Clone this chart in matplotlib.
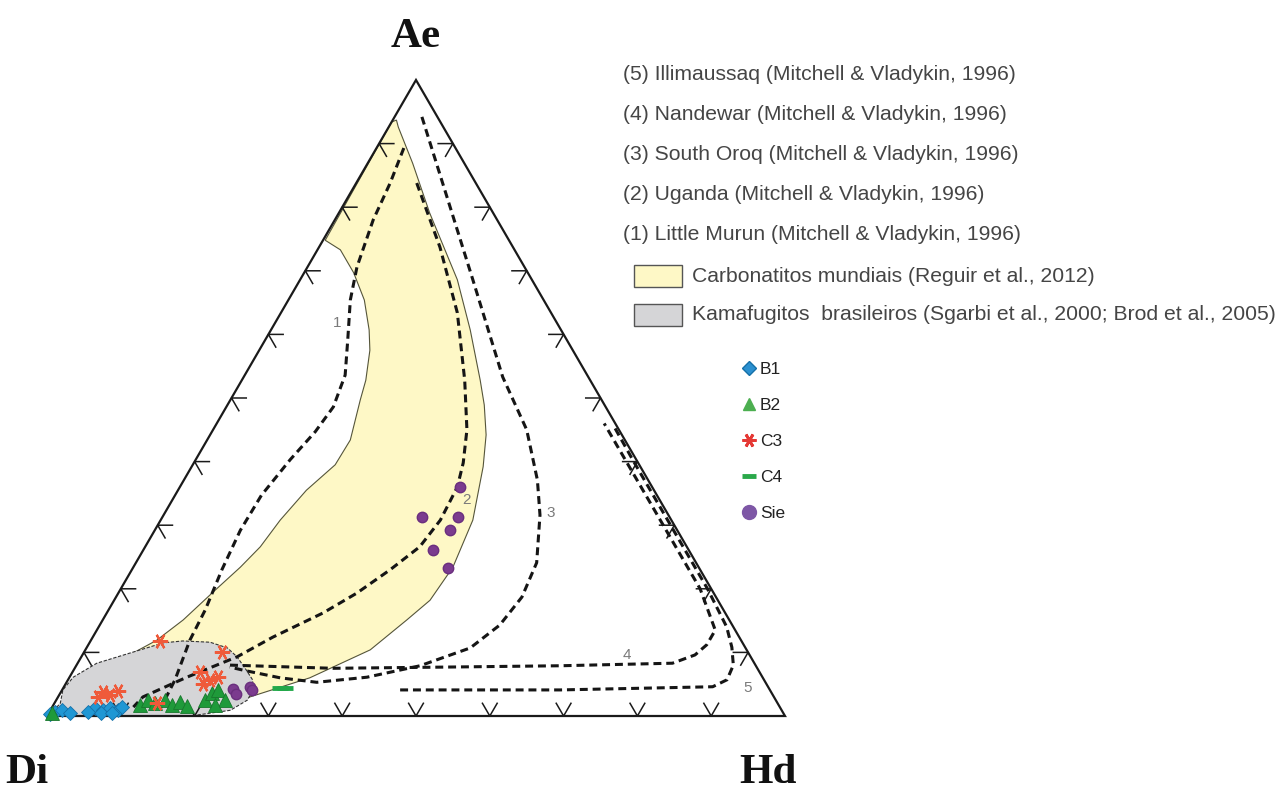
import numpy as np
import matplotlib.pyplot as plt
from matplotlib.patches import Rectangle
from matplotlib.lines import Line2D

S3 = np.sqrt(3) / 2

# all compositions in % as (Hd, Ae); Di = 100 - Hd - Ae
carb_hd = [0.5, 0, 0.3, 3.1, 6.7, 10.3, 13.3, 15.0, 16.8, 17.6, 19.4, 19.3, 17.4, 16.2, 15.6, 14.5,
           12.9, 10.9, 8.9, 5.5, 3.0, 1.8, 6.9, 13.8, 22.1, 26.0, 32.6, 38.6, 41.2, 42.8, 43.3,
           42.3, 39.5, 37.4, 34.8, 32.3, 27.0, 21.3, 12.3, 6.1, 1.3]
carb_ae = [93.7, 93.4, 74.8, 73.3, 69.7, 65.4, 60.7, 57.5, 52.8, 49.7, 43.4, 39.5, 35.5, 30.8, 26.6, 23.4,
           19.8, 15.1, 11.9, 8.8, 5.7, 2.5, 0.6, 0.3, 1.3, 3.0, 6.0, 10.4, 15.1, 18.2, 23.4,
           30.8, 39.2, 44.2, 48.9, 52.8, 60.7, 68.6, 79.1, 86.9, 92.6]

kama_hd = [0.3, 0.8, 0.1, 0.5, 2.6, 6.3, 10.0, 12.5, 16.3, 19.1, 21.1, 23.1, 25.0, 25.9, 25.9, 24.4, 19.4, 0.4]
kama_ae = [0.2, 2.0, 4.1, 6.1, 8.3, 9.9, 11.5, 11.8, 11.6, 10.7, 9.3, 7.5, 5.7, 4.1, 2.5, 0.9, 0.0, 0.0]

c1_hd = [3.7, 4.6, 5.2, 6.7, 8.4, 11.2, 13.6, 14.5, 14.0, 12.8, 11.7, 11.6, 12.2, 13.1, 13.4, 14.5, 14.8]
c1_ae = [89.3, 83.8, 78.0, 70.6, 65.4, 59.1, 53.6, 48.6, 44.7, 40.3, 34.7, 29.2, 23.0, 16.7, 11.9, 5.7, 0.9]

c2_hd = [8.2, 16.4, 23.9, 30.2, 34.4, 36.5, 37.6, 37.9, 37.2, 35.0, 32.3, 29.3, 24.4, 21.1, 15.9, 11.5, 11.0]
c2_ae = [83.8, 73.7, 63.4, 52.8, 45.0, 39.8, 36.0, 30.8, 26.6, 23.0, 19.3, 16.2, 12.4, 9.3, 6.1, 3.0, 1.4]

c3_hd = [3.7, 13.4, 23.4, 35.1, 42.5, 47.9, 51.0, 54.3, 55.0, 54.2, 52.0, 46.6, 40.3, 33.9, 28.6, 23.0, 20.9]
c3_ae = [94.2, 81.6, 68.6, 53.3, 45.0, 37.1, 31.6, 24.1, 18.7, 14.3, 10.7, 7.9, 6.1, 5.3, 6.0, 7.2, 7.7]

c4_hd = [20.8, 35.0, 50.8, 65.6, 80.6, 83.0, 83.8, 83.8, 78.5, 69.0, 59.3, 52.5]
c4_ae = [8.0, 7.5, 7.7, 7.9, 8.3, 9.6, 11.2, 13.5, 20.0, 29.5, 39.2, 46.0]

c5_hd = [45.8, 67.5, 87.9, 89.3, 89.0, 87.4, 85.1, 79.5, 69.5, 59.5, 53.8]
c5_ae = [4.1, 4.1, 4.6, 5.7, 8.0, 10.8, 14.0, 20.0, 30.0, 40.0, 45.8]

curve_labels = ['1', '2', '3', '4', '5']
label_hd = [8.4, 39.9, 52.3, 73.8, 92.7]
label_ae = [61.8, 34.0, 31.9, 9.6, 4.4]

b1_hd = [0.8, 1.6, 2.9, 0.3, 5.9, 7.1, 7.9, 9.2, 7.0, 8.6, 9.5, 5.2]
b1_ae = [0.6, 0.9, 0.5, 0.3, 1.3, 0.9, 1.3, 0.9, 0.5, 0.5, 1.4, 0.6]

b2_hd = [11.7, 12.4, 13.6, 14.7, 16.1, 16.9, 18.2, 20.1, 20.5, 21.1, 22.9, 21.9, 0.4]
b2_ae = [1.7, 2.5, 2.0, 2.5, 1.7, 2.2, 1.6, 2.5, 3.6, 4.1, 2.5, 1.7, 0.5]

c3s_hd = [9.4, 18.7, 17.3, 19.3, 20.1, 18.6, 5.7, 6.9, 7.7, 5.4, 13.9]
c3s_ae = [11.8, 10.1, 6.9, 5.7, 6.1, 5.0, 3.8, 3.3, 3.9, 3.0, 2.0]

c4s_hd = [29.4, 30.0]
c4s_ae = [4.4, 4.4]

sie_hd = [38.0, 40.1, 35.2, 40.0, 39.3, 42.7, 23.1, 23.9, 25.2, 25.7]
sie_ae = [36.0, 31.3, 31.3, 29.2, 26.1, 23.3, 4.2, 3.5, 4.6, 4.1]

legend_lines = ['(5) Illimaussaq (Mitchell & Vladykin, 1996)',
                '(4) Nandewar (Mitchell & Vladykin, 1996)',
                '(3) South Oroq (Mitchell & Vladykin, 1996)',
                '(2) Uganda (Mitchell & Vladykin, 1996)',
                '(1) Little Murun (Mitchell & Vladykin, 1996)']
field_names = ['Carbonatitos mundiais (Reguir et al., 2012)',
               'Kamafugitos  brasileiros (Sgarbi et al., 2000; Brod et al., 2005)']


def tern(hd, ae):
    hd = np.asarray(hd, float) / 100
    ae = np.asarray(ae, float) / 100
    return hd + ae / 2, ae * S3


sans = 'Liberation Sans'

fig = plt.figure(figsize=(12.87, 7.94), dpi=100)
ax = fig.add_axes([0, 0, 1, 1])
ax.set_xlim(-47 / 738, 1240 / 738)
ax.set_ylim(-78 / 734.4, 716 / 734.4)
ax.axis('off')

yellow = '#fef8c6'
grey = '#d5d5d7'

x, y = tern(carb_hd, carb_ae)
ax.fill(x, y, facecolor=yellow, edgecolor='#55553a', lw=0.8, zorder=1)
x, y = tern(kama_hd, kama_ae)
ax.fill(x, y, facecolor=grey, edgecolor='#333333', lw=0.8, ls=(0, (3, 1.5)), zorder=2)

for hd, ae in [(c1_hd, c1_ae), (c2_hd, c2_ae), (c3_hd, c3_ae), (c4_hd, c4_ae), (c5_hd, c5_ae)]:
    x, y = tern(hd, ae)
    ax.plot(x, y, color='#151515', lw=2.2, dashes=(2.6, 1.6), zorder=3)

for lab, hd, ae in zip(curve_labels, label_hd, label_ae):
    x, y = tern(hd, ae)
    ax.text(x, y, lab, color='#7a7a7a', fontsize=11, ha='center', va='center',
            family=sans, zorder=4)

# triangle and ticks
ax.plot([0, 1, 0.5, 0], [0, 0, S3, 0], color='#1a1a1a', lw=1.6, zorder=6,
        solid_joinstyle='miter')
L = 0.02
for i in range(1, 10):
    f = i / 10
    px, py = f / 2, f * S3          # left side
    ax.plot([px + L, px, px + 0.5 * L], [py, py, py - S3 * L], color='#1a1a1a', lw=1.1, zorder=6)
    px, py = f, 0                   # base
    ax.plot([px - 0.5 * L, px, px + 0.5 * L], [S3 * L, 0, S3 * L], color='#1a1a1a', lw=1.1, zorder=6)
    px, py = 1 - f / 2, f * S3      # right side
    ax.plot([px - L, px, px - 0.5 * L], [py, py, py - S3 * L], color='#1a1a1a', lw=1.1, zorder=6)

# samples
x, y = tern(b1_hd, b1_ae)
ax.plot(x, y, 'D', ms=7, color='#1f97d4', mec='#1570a8', mew=0.6, ls='none', zorder=7)
x, y = tern(b2_hd, b2_ae)
ax.plot(x, y, '^', ms=10, color='#1f9a3a', mec='#17772c', mew=0.6, ls='none', zorder=7)
x, y = tern(c3s_hd, c3s_ae)
ax.plot(x, y, marker=(6, 2, 30), ms=11, mec='#ef5a3a', mew=1.6, ls='none', zorder=8)
x, y = tern(c4s_hd, c4s_ae)
ax.plot(x, y, '_', ms=12, mew=3.5, color='#22a84a', ls='none', zorder=7)
x, y = tern(sie_hd, sie_ae)
ax.plot(x, y, 'o', ms=7.5, color='#7b3b8e', mec='#6a2f7e', ls='none', zorder=7)

# vertex labels
for txt, px, py in [('Ae', 416, 37), ('Di', 27, 773), ('Hd', 768, 773)]:
    fig.text(px / 1287, 1 - py / 794, txt, family='Liberation Serif', weight='bold',
             fontsize=31, ha='center', va='center', color='#111111')

# legend of fields
W, H = 1287, 794
for k, txt in enumerate(legend_lines):
    fig.text(623 / W, 1 - (75 + 40 * k) / H, txt, family=sans, fontsize=15.2,
             color='#454545', va='center')
for k, (txt, fc) in enumerate(zip(field_names, [yellow, grey])):
    yc = 276 + 39 * k
    fig.add_artist(Rectangle((634 / W, 1 - (yc + 11) / H), 48 / W, 22 / H,
                             transform=fig.transFigure, facecolor=fc,
                             edgecolor='#555555', lw=1.0))
    fig.text(692 / W, 1 - yc / H, txt, family=sans, fontsize=15.2, color='#454545', va='center')

handles = [
    Line2D([], [], marker='D', ms=7, color='#2b90d0', mec='#1570a8', ls='none'),
    Line2D([], [], marker='^', ms=9, color='#4caf50', ls='none'),
    Line2D([], [], marker=(6, 2, 30), ms=10, mec='#e53935', mew=2, ls='none'),
    Line2D([], [], marker='_', ms=10, mew=3.5, color='#2aa84a', ls='none'),
    Line2D([], [], marker='o', ms=10, color='#7e57a6', ls='none'),
]
leg = ax.legend(handles, ['B1', 'B2', 'C3', 'C4', 'Sie'], loc='upper left',
                bbox_to_anchor=(733 / W, 1 - 353 / H), bbox_transform=fig.transFigure,
                frameon=False, borderpad=0, handlelength=0.9, handletextpad=0.15,
                labelspacing=1.2, prop={'family': sans, 'size': 12.5})
for t in leg.get_texts():
    t.set_color('#222222')

fig.savefig('out.png', dpi=100)
